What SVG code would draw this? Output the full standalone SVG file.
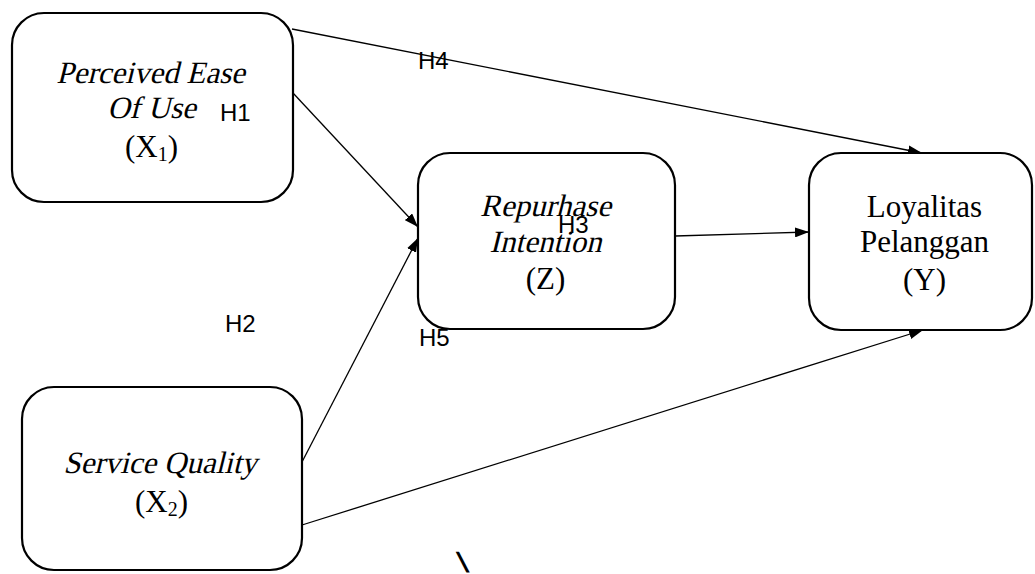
<svg xmlns="http://www.w3.org/2000/svg" width="1035" height="574" viewBox="0 0 1035 574">
<defs>
<marker id="ah" viewBox="0 0 14 10" refX="14" refY="5" markerWidth="14" markerHeight="10" markerUnits="userSpaceOnUse" orient="auto">
<path d="M0,0 L14,5 L0,10 Z" fill="#000"/>
</marker>
<style>
.box{fill:#fff;stroke:#000;stroke-width:2.2}
.t{font-family:"Liberation Serif","Times New Roman",serif;font-size:31px;fill:#000;text-anchor:middle}
.h{font-family:"Liberation Sans",Arial,sans-serif;font-size:24px;fill:#000}
.c{stroke:#000;stroke-width:1.3;fill:none;marker-end:url(#ah)}
.sub{font-size:20px}
</style>
</defs>
<rect width="1035" height="574" fill="#fff"/>
<g id="connectors">
<line class="c" x1="292" y1="29" x2="922" y2="153"/>
<line class="c" x1="293" y1="93" x2="418" y2="227"/>
<line class="c" x1="302" y1="462" x2="418" y2="238"/>
<line class="c" x1="675" y1="236" x2="809" y2="232"/>
<line class="c" x1="302" y1="525" x2="923" y2="330"/>
</g>
<g id="node-x1">
<rect class="box" x="12" y="13" width="281" height="189" rx="32"/>
<text class="t" transform="translate(150.5,83) skewX(-14)">Perceived Ease</text>
<text class="t" transform="translate(151.5,118) skewX(-14)">Of Use</text>
<text class="t" x="151.5" y="157">(X<tspan class="sub" dy="4">1</tspan><tspan dy="-4">)</tspan></text>
</g>
<g id="node-z">
<rect class="box" x="418" y="153" width="257" height="176" rx="32"/>
<text class="t" transform="translate(545.5,216) skewX(-14)">Repurhase</text>
<text class="t" transform="translate(545.5,252) skewX(-14)">Intention</text>
<text class="t" x="545.5" y="289">(Z)</text>
</g>
<g id="node-y">
<rect class="box" x="809" y="153" width="223" height="177" rx="32"/>
<text class="t" x="924.5" y="217">Loyalitas</text>
<text class="t" x="924.5" y="252">Pelanggan</text>
<text class="t" x="924.5" y="290">(Y)</text>
</g>
<g id="node-x2">
<rect class="box" x="22" y="387" width="280" height="183" rx="32"/>
<text class="t" transform="translate(160,473) skewX(-14)">Service Quality</text>
<text class="t" x="161.5" y="512">(X<tspan class="sub" dy="4">2</tspan><tspan dy="-4">)</tspan></text>
</g>
<g id="labels">
<text class="h" x="220" y="121">H1</text>
<text class="h" x="225" y="332">H2</text>
<text class="h" x="558" y="233">H3</text>
<text class="h" x="418" y="69">H4</text>
<text class="h" x="419" y="346">H5</text>
<text class="h" transform="translate(462,572) skewX(18)" style="font-weight:bold;font-size:28px">\</text>
</g>
</svg>
